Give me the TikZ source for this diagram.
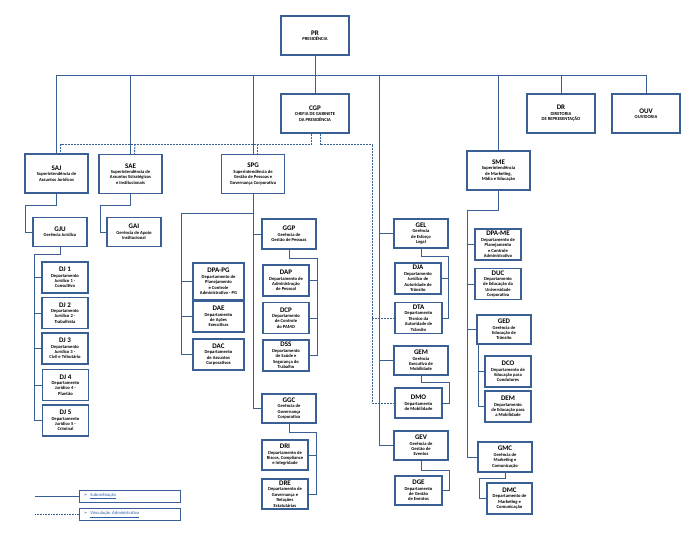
\documentclass[tikz,border=0pt]{standalone}
\usepackage{fontspec}
\setmainfont{Carlito}
\newfontfamily\symfont{DejaVu Sans}
\definecolor{orgblue}{HTML}{3A5F95}
\definecolor{linkblue}{HTML}{2E5FA8}
\begin{document}
\begin{tikzpicture}[x=1pt, y=-1pt,
    box/.style = {draw=orgblue, line width=1.2pt, fill=white, inner sep=0pt, align=center,
                  font=\fontsize{4.6}{5.4}\selectfont\bfseries},
    big/.style = {box, minimum width=63, minimum height=39},
    top/.style = {box, minimum width=68, minimum height=39},
    ger/.style = {box, minimum width=54, minimum height=29},
    dep/.style = {box, minimum width=46, minimum height=31},
    sub/.style = {draw=orgblue, line width=0.9pt},
    vinc/.style = {draw=orgblue, line width=0.9pt, dashed, dash pattern=on 2pt off 1pt},
    legbox/.style = {draw=orgblue, line width=1pt, minimum width=101, minimum height=12,
                     inner sep=0pt, text width=93, align=left, font=\fontsize{4.6}{5}\selectfont, text=linkblue}]
    \useasboundingbox (0,0) rectangle (700,534);
    \newcommand{\ttl}[1]{{\fontsize{7}{8}\selectfont #1}}
    % top level
    \node[top] (pr) at (315,35.5) {\ttl{PR}\\PRESIDÊNCIA};
    \node[top] (cgp) at (315,113.5) {\ttl{CGP}\\CHEFIA DE GABINETE\\DA PRESIDÊNCIA};
    \node[top] (dr) at (561,113.5) {\ttl{DR}\\DIRETORIA\\DE REPRESENTAÇÃO};
    \node[top] (ouv) at (646,113.5) {\ttl{OUV}\\OUVIDORIA};
    % superintendencias
    \node[big] (saj) at (56.5,173.5) {\ttl{SAJ}\\Superintendência de\\Assuntos Jurídicos};
    \node[big] (sae) at (130.5,174) {\ttl{SAE}\\Superintendência de\\Assuntos Estratégicos\\e Institucionais};
    \node[big] (spg) at (253,174) {\ttl{SPG}\\Superintendência de\\Gestão de Pessoas e\\Governança Corporativa};
    \node[big] (sme) at (498.5,170.5) {\ttl{SME}\\Superintendência\\de Marketing,\\Mídia e Educação};
    % SAJ / SAE
    \node[ger] (gju) at (60,232) {\ttl{GJU}\\Gerência Jurídica};
    \node[ger] (gai) at (134,232) {\ttl{GAI}\\Gerência de Apoio\\Institucional};
    \node[dep] (dj1) at (65,277.5) {\ttl{DJ 1}\\Departamento\\Jurídico 1 -\\Consultivo};
    \node[dep] (dj2) at (65,313) {\ttl{DJ 2}\\Departamento\\Jurídico 2 -\\Trabalhista};
    \node[dep] (dj3) at (65,348.5) {\ttl{DJ 3}\\Departamento\\Jurídico 3 -\\Civil e Tributário};
    \node[dep] (dj4) at (65.5,385) {\ttl{DJ 4}\\Departamento\\Jurídico 4 -\\Plantão};
    \node[dep] (dj5) at (65.5,420.5) {\ttl{DJ 5}\\Departamento\\Jurídico 5 -\\Criminal};
    % SPG
    \node[dep, minimum width=51, minimum height=37] (dpapg) at (218.5,281.5) {\ttl{DPA-PG}\\Departamento de\\Planejamento\\e Controle\\Administrativo - PG};
    \node[dep, minimum width=51] (dae) at (218.5,316.5) {\ttl{DAE}\\Departamento\\de Ações\\Executivas};
    \node[dep, minimum width=51] (dac) at (218.5,354.5) {\ttl{DAC}\\Departamento\\de Assuntos\\Corporativos};
    \node[ger, minimum height=30] (ggp) at (289,234) {\ttl{GGP}\\Gerência de\\Gestão de Pessoas};
    \node[dep] (dap) at (286,280.5) {\ttl{DAP}\\Departamento de\\Administração\\de Pessoal};
    \node[dep] (dcp) at (286,318) {\ttl{DCP}\\Departamento\\de Controle\\do PAMO};
    \node[dep] (dss) at (286,355.5) {\ttl{DSS}\\Departamento\\de Saúde e\\Segurança do\\Trabalho};
    \node[ger] (ggc) at (289,408.5) {\ttl{GGC}\\Gerência de\\Governança\\Corporativa};
    \node[dep, minimum height=30] (dri) at (285,455) {\ttl{DRI}\\Departamento de\\Riscos, Compliance\\e Integridade};
    \node[dep, minimum height=30] (dre) at (285,494) {\ttl{DRE}\\Departamento de\\Governança e\\Relações\\Estatutárias};
    % GEL column
    \node[ger] (gel) at (421,233.5) {\ttl{GEL}\\Gerência\\de Esforço\\Legal};
    \node[dep] (dja) at (418,278.5) {\ttl{DJA}\\Departamento\\Jurídico de\\Autoridade de\\Trânsito};
    \node[dep, minimum width=47] (dta) at (418.5,318) {\ttl{DTA}\\Departamento\\Técnico da\\Autoridade de\\Trânsito};
    \node[ger] (gem) at (421,360.5) {\ttl{GEM}\\Gerência\\Executiva de\\Mobilidade};
    \node[dep, minimum width=47, minimum height=30] (dmo) at (418.5,403) {\ttl{DMO}\\Departamento\\de Mobilidade};
    \node[ger] (gev) at (421,445.5) {\ttl{GEV}\\Gerência de\\Gestão de\\Eventos};
    \node[dep, minimum width=47, minimum height=29] (dge) at (418.5,490.5) {\ttl{DGE}\\Departamento\\de Gestão\\de Eventos};
    % SME
    \node[dep] (dpame) at (498,244.5) {\ttl{DPA-ME}\\Departamento de\\Planejamento\\e Controle\\Administrativo};
    \node[dep] (duc) at (498,284) {\ttl{DUC}\\Departamento\\de Educação da\\Universidade\\Corporativa};
    \node[ger] (ged) at (504,329.5) {\ttl{GED}\\Gerência de\\Educação de\\Trânsito};
    \node[dep] (dco) at (508,371.5) {\ttl{DCO}\\Departamento de\\Educação para\\Condutores};
    \node[dep] (dem) at (508,406.5) {\ttl{DEM}\\Departamento\\de Educação para\\a Mobilidade};
    \node[ger, minimum height=30] (gmc) at (505,457) {\ttl{GMC}\\Gerência de\\Marketing e\\Comunicação};
    \node[dep, minimum width=45] (dmc) at (509.5,498.5) {\ttl{DMC}\\Departamento de\\Marketing e\\Comunicação};
    % helper points
    \coordinate (bus) at (315,75);
    \coordinate (geltop) at (379,75);
    \coordinate (djtrunk) at (34,254);
    \coordinate (spgl) at (181,213);
    \coordinate (ggpr) at (317,258);
    \coordinate (ggcr) at (316,432);
    \coordinate (gelr) at (448,256);
    \coordinate (gemr) at (449,382);
    \coordinate (gevr) at (449,470);
    \coordinate (smel) at (467,210);
    \coordinate (vx) at (372,0);
    % subordination
    \begin{scope}[on background layer/.style={}]
    \draw[sub] (56,75) -- (646,75);
    \draw[sub] (pr.south) -- (cgp.north);
    \foreach \n in {saj,sae,spg,sme,dr,ouv}
        \draw[sub] (\n.north) -- (\n.north |- bus);
    \draw[sub] (saj.south) |- (25,205) |- (gju.west);
    \draw[sub] (sae.south) |- (100,205) |- (gai.west);
    \draw[sub] (gju.south) |- (djtrunk);
    \foreach \n in {dj1,dj2,dj3,dj4,dj5}
        \draw[sub] (djtrunk) |- (\n.west);
    \draw[sub] (spg.south) |- (ggc.west);
    \draw[sub] (spg.south |- ggp.west) -- (ggp.west);
    \draw[sub] (spg.south) |- (spgl);
    \foreach \n in {dpapg,dae,dac}
        \draw[sub] (spgl) |- (\n.west);
    \draw[sub] (ggp.south) |- (ggpr);
    \foreach \n in {dap,dcp,dss}
        \draw[sub] (ggpr) |- (\n.east);
    \draw[sub] (ggc.south) |- (ggcr);
    \foreach \n in {dri,dre}
        \draw[sub] (ggcr) |- (\n.east);
    \foreach \n in {gel,gem,gev}
        \draw[sub] (geltop) |- (\n.west);
    \draw[sub] (gel.south) |- (gelr);
    \foreach \n in {dja,dta}
        \draw[sub] (gelr) |- (\n.east);
    \draw[sub] (gem.south) |- (gemr) |- (dmo.east);
    \draw[sub] (gev.south) |- (gevr) |- (dge.east);
    \draw[sub] (sme.south) |- (smel);
    \foreach \n in {dpame,duc,ged,gmc}
        \draw[sub] (smel) |- (\n.west);
    \foreach \n in {dco,dem}
        \draw[sub] ([xshift=2pt]ged.south west) |- (\n.west);
    \draw[sub] (gmc.south) |- (479,478) |- (dmc.west);
    \end{scope}
    % vinculacao administrativa
    \draw[vinc] ([xshift=-4pt]cgp.south) -- ++(0,11) -| ([xshift=4pt]saj.north);
    \draw[vinc] (135,144) -- ([xshift=4pt]sae.north);
    \draw[vinc] (257,144) -- ([xshift=4pt]spg.north);
    \draw[vinc] ([xshift=5pt]cgp.south) -- ++(0,11) -| (dmo.west -| vx) -- (dmo.west);
    \draw[vinc] (dta.west -| vx) -- (dta.west);
    % legend
    \node[legbox, anchor=west] (leg1) at (79,496) {{\symfont ➢}\ \ \underline{Subordinação}};
    \node[legbox, anchor=west] (leg2) at (79,514.5) {{\symfont ➢}\ \ \underline{Vinculação Administrativa}};
    \coordinate (legs) at (35,496);
    \coordinate (legv) at (35,514.5);
    \draw[sub] (legs) -- (leg1.west);
    \draw[vinc, dash pattern=on 1pt off 0.6pt] (legv) -- (leg2.west);
\end{tikzpicture}
\end{document}
